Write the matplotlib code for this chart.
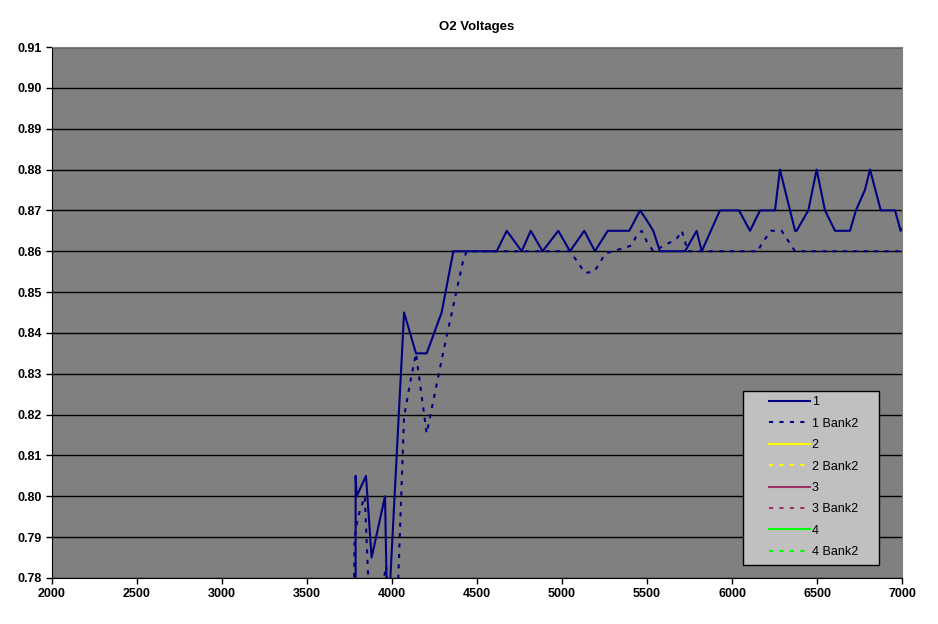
import numpy as np
from matplotlib import pyplot as plt
from matplotlib.patches import Rectangle

# RPM vs O2 sensor voltage, sensor 1 (bank 1 and bank 2)
rpm_1 = [3786, 3786, 3792, 3847, 3880, 3959, 3972, 3988, 4030, 4071, 4141, 4204,
         4292, 4361, 4616, 4675, 4763, 4816, 4886, 4978, 5047, 5131, 5194, 5269,
         5396, 5459, 5500, 5537, 5576, 5724, 5792, 5822, 5929, 6041, 6106, 6165,
         6253, 6282, 6371, 6380, 6449, 6498, 6547, 6606, 6694, 6729, 6782, 6812,
         6875, 6959, 6992, 7010]
volt_1 = [0.770, 0.805, 0.800, 0.805, 0.785, 0.800, 0.770, 0.778, 0.812, 0.845, 0.835, 0.835,
          0.845, 0.860, 0.860, 0.865, 0.860, 0.865, 0.860, 0.865, 0.860, 0.865, 0.860, 0.865,
          0.865, 0.870, 0.8675, 0.865, 0.860, 0.860, 0.865, 0.860, 0.870, 0.870, 0.865, 0.870,
          0.870, 0.880, 0.865, 0.865, 0.870, 0.880, 0.870, 0.865, 0.865, 0.870, 0.875, 0.880,
          0.870, 0.870, 0.865, 0.866]

rpm_1b = [3775, 3780, 3800, 3840, 3850, 3865, 3885, 3945, 3965, 3990, 4037, 4071,
          4106, 4141, 4204, 4300, 4420, 4440, 5047, 5086, 5135, 5188, 5215, 5253,
          5410, 5440, 5469, 5500, 5537, 5674, 5705, 5740, 6153, 6170, 6228, 6292,
          6371, 7000]
volt_1b = [0.770, 0.790, 0.795, 0.800, 0.790, 0.775, 0.770, 0.778, 0.783, 0.770, 0.780, 0.8195,
           0.8277, 0.835, 0.8154, 0.835, 0.858, 0.860, 0.860, 0.8577, 0.8547, 0.855, 0.8566, 0.8594,
           0.8614, 0.864, 0.865, 0.8623, 0.860, 0.863, 0.865, 0.860, 0.860, 0.8615, 0.865, 0.865,
           0.860, 0.860]

# sensors 2-4 have no readings in this range
rpm_2, volt_2 = [], []
rpm_2b, volt_2b = [], []
rpm_3, volt_3 = [], []
rpm_3b, volt_3b = [], []
rpm_4, volt_4 = [], []
rpm_4b, volt_4b = [], []

plt.rcParams['font.family'] = ['Liberation Sans', 'DejaVu Sans']

fig = plt.figure(figsize=(9.38, 6.24), dpi=100)
ax = fig.add_axes([52 / 938, 46 / 624, 850 / 938, 531 / 624])
ax.set_facecolor('#808080')

dots = (0, (2, 3))
ax.plot(rpm_1, volt_1, color='#000080', lw=1.5, label='1')
ax.plot(rpm_1b, volt_1b, color='#000080', lw=1.5, ls=dots, label='1 Bank2')
ax.plot(rpm_2, volt_2, color='#ffff00', lw=1.5, label='2')
ax.plot(rpm_2b, volt_2b, color='#ffff00', lw=1.5, ls=dots, label='2 Bank2')
ax.plot(rpm_3, volt_3, color='#993366', lw=1.5, label='3')
ax.plot(rpm_3b, volt_3b, color='#993366', lw=1.5, ls=dots, label='3 Bank2')
ax.plot(rpm_4, volt_4, color='#00ff00', lw=1.5, label='4')
ax.plot(rpm_4b, volt_4b, color='#00ff00', lw=1.5, ls=dots, label='4 Bank2')

ax.set_xlim(2000, 7000)
ax.set_ylim(0.78, 0.91)
ax.set_xticks(np.arange(2000, 7001, 500))
ax.set_yticks(np.arange(0.78, 0.9101, 0.01))
ax.set_yticklabels(['%.2f' % v for v in np.arange(0.78, 0.9101, 0.01)])
ax.yaxis.grid(True, color='black', lw=1)
ax.set_axisbelow(True)
ax.tick_params(direction='out', length=4, width=1, color='black', labelsize=9)
for lab in ax.get_xticklabels() + ax.get_yticklabels():
    lab.set_fontweight('bold')
ax.spines['top'].set_color('#808080')
ax.spines['right'].set_color('#808080')

ax.set_title('O2 Voltages', fontsize=9.5, fontweight='bold', pad=12)

# legend box drawn separately so the padding can match
box = Rectangle((0.813, 0.0245), 0.16, 0.3275, transform=ax.transAxes,
                facecolor='#c0c0c0', edgecolor='black', lw=1, zorder=4)
ax.add_patch(box)
leg = ax.legend(loc='upper left', bbox_to_anchor=(0.843, 0.342), fontsize=9,
                frameon=False, handlelength=3.3, handletextpad=0.15,
                labelspacing=0.75, borderpad=0, borderaxespad=0)
leg.set_zorder(5)

fig.savefig('out.png', dpi=100)
